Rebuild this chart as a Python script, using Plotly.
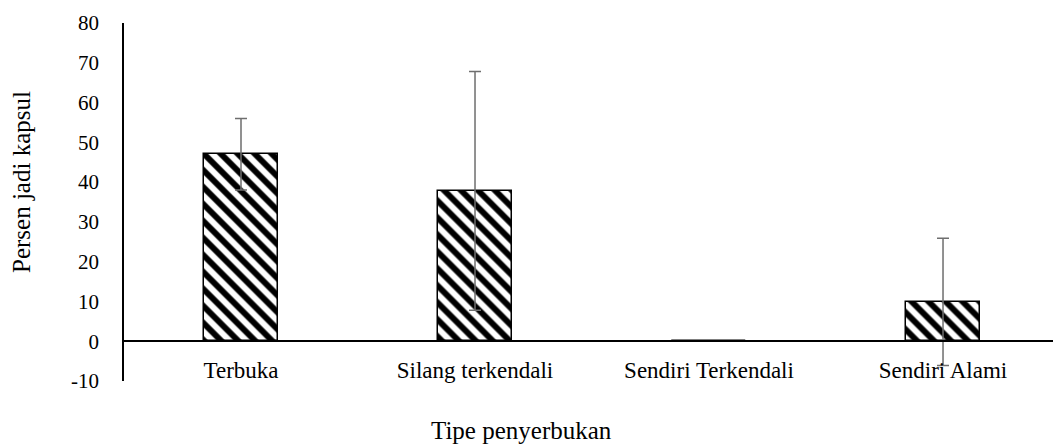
import plotly.graph_objects as go

# data
categories = ["Terbuka", "Silang terkendali", "Sendiri Terkendali", "Sendiri Alami"]
persen = [47.0, 37.8, 0.0, 9.9]
galat = [9.0, 30.0, 0.0, 16.0]
y_ticks = [-10, 0, 10, 20, 30, 40, 50, 60, 70, 80]
y_labels = ["-10", "0", "10", "20", "30", "40", "50", "60", "70", "80"]

FONT = "Liberation Serif"

fig = go.Figure()

fig.add_trace(go.Bar(
    x=categories, y=persen,
    width=0.316,
    marker=dict(
        color="white",
        line=dict(color="black", width=1.5),
        pattern=dict(shape="\\", fgcolor="#000000", fgopacity=1, bgcolor="white",
                     size=12, solidity=0.5),
    ),
    error_y=dict(type="data", array=galat, visible=True, color="#6e6e6e", thickness=1.5, width=6),
    showlegend=False,
))

fig.update_layout(
    width=1053, height=446,
    plot_bgcolor="white", paper_bgcolor="white",
    margin=dict(l=124, r=0, t=23, b=65),
    font=dict(family=FONT, size=23, color="black"),
    bargap=0,
)

fig.update_xaxes(
    type="category",
    range=[-0.5, 3.47],
    anchor="free", position=10 / 90,
    showline=True, linecolor="black", linewidth=1.5,
    ticks="", showgrid=False,
    ticklabelstandoff=8,
    tickfont=dict(family=FONT, size=23),
)

fig.update_yaxes(
    range=[-10, 80],
    tickvals=y_ticks, ticktext=y_labels,
    showline=True, linecolor="black", linewidth=1.5,
    ticks="", showgrid=False, zeroline=False,
    ticklabelstandoff=19,
    tickfont=dict(family=FONT, size=21),
)

fig.add_annotation(
    text="Tipe penyerbukan", xref="paper", yref="paper",
    x=(521 - 124) / 929, y=-(431 - 381) / 358, xanchor="center", yanchor="middle",
    showarrow=False, font=dict(family=FONT, size=25),
)
fig.add_annotation(
    text="Persen jadi kapsul", xref="paper", yref="paper",
    x=-(124 - 22) / 929, y=(381 - 182) / 358, xanchor="center", yanchor="middle",
    textangle=-90, showarrow=False, font=dict(family=FONT, size=25),
)

fig.write_html("out.html", config={"displayModeBar": False},
               post_script="document.body.style.margin='0';")
